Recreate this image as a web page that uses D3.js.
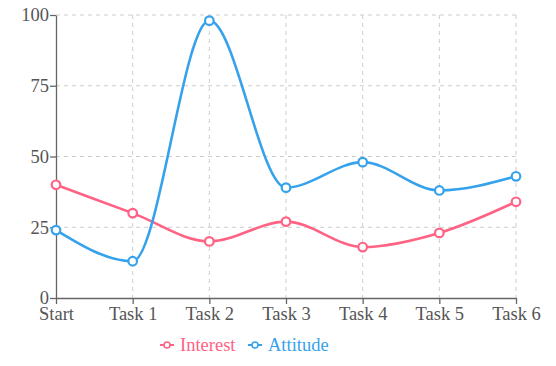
<!DOCTYPE html>
<html>
<head>
<meta charset="utf-8">
<script src="https://cdn.jsdelivr.net/npm/d3@7"></script>
<style>
  body { margin: 0; background: #fff; }
  svg text { font-family: "Liberation Serif", "Times New Roman", serif; }
</style>
</head>
<body>
<div id="chart-area"></div>
<script>
// data
var categories = ["Start", "Task 1", "Task 2", "Task 3", "Task 4", "Task 5", "Task 6"];
var interest = [40, 30, 20, 27, 18, 23, 34];
var attitude = [24, 13, 98, 39, 48, 38, 43];
var yTicks = [0, 25, 50, 75, 100];
var seriesNames = ["Interest", "Attitude"];
var seriesColors = ["rgb(255,99,132)", "rgb(54,162,235)"];

var width = 556, height = 366;
var margin = {top: 15, right: 40, bottom: 68, left: 56};
var chartWidth = width - margin.left - margin.right;
var chartHeight = height - margin.top - margin.bottom;

var svg = d3.select("#chart-area").append("svg")
    .attr("width", width).attr("height", height);

var graph = svg.append("g").attr("transform", "translate(" + margin.left + "," + margin.top + ")");

var x = d3.scalePoint().domain(categories).range([0, chartWidth]);
var y = d3.scaleLinear().domain([0, 100]).range([chartHeight, 0]);

// grid
graph.append("g").selectAll("line").data(yTicks.slice(1)).enter().append("line")
    .attr("x1", 0).attr("x2", chartWidth)
    .attr("y1", d => y(d)).attr("y2", d => y(d))
    .attr("stroke", "#ccc").attr("stroke-dasharray", "4,4");
graph.append("g").selectAll("line").data(categories.slice(1)).enter().append("line")
    .attr("x1", d => x(d)).attr("x2", d => x(d))
    .attr("y1", 0).attr("y2", chartHeight)
    .attr("stroke", "#ccc").attr("stroke-dasharray", "4,4");

// axes
var xAxisGroup = graph.append("g").attr("transform", "translate(0," + chartHeight + ")")
    .call(d3.axisBottom(x).tickSize(6).tickPadding(3).tickSizeOuter(0));
var yAxisGroup = graph.append("g")
    .call(d3.axisLeft(y).tickValues(yTicks).tickSize(6).tickPadding(1).tickSizeOuter(0));

[xAxisGroup, yAxisGroup].forEach(g => {
    g.selectAll("path, line").attr("stroke", "#666").attr("stroke-width", 1.3);
    g.selectAll("text").attr("font-size", "18.5px").attr("fill", "#555")
        .attr("font-family", "Liberation Serif, serif");
});

// lines
var line = d3.line()
    .x((d, i) => x(categories[i]))
    .y(d => y(d))
    .curve(d3.curveMonotoneX);

[interest, attitude].forEach((values, s) => {
    graph.append("path").datum(values)
        .attr("d", line)
        .attr("fill", "none")
        .attr("stroke", seriesColors[s])
        .attr("stroke-width", 2.6);
    graph.append("g").selectAll("circle").data(values).enter().append("circle")
        .attr("cx", (d, i) => x(categories[i]))
        .attr("cy", d => y(d))
        .attr("r", 4.3)
        .attr("fill", "#fff")
        .attr("stroke", seriesColors[s])
        .attr("stroke-width", 2.2);
});

// legend
var legendX = [160, 248];
var legend = svg.append("g").attr("transform", "translate(0,345)");
seriesNames.forEach((name, s) => {
    var item = legend.append("g").attr("transform", "translate(" + legendX[s] + ",0)");
    item.append("line").attr("x1", 0).attr("x2", 14).attr("y1", 0).attr("y2", 0)
        .attr("stroke", seriesColors[s]).attr("stroke-width", 2);
    item.append("circle").attr("cx", 7).attr("cy", 0).attr("r", 3)
        .attr("fill", "#fff").attr("stroke", seriesColors[s]).attr("stroke-width", 1.5);
    item.append("text").attr("x", 20).attr("y", 6)
        .attr("font-size", "18.5px").attr("fill", seriesColors[s]).text(name);
});
</script>
</body>
</html>
